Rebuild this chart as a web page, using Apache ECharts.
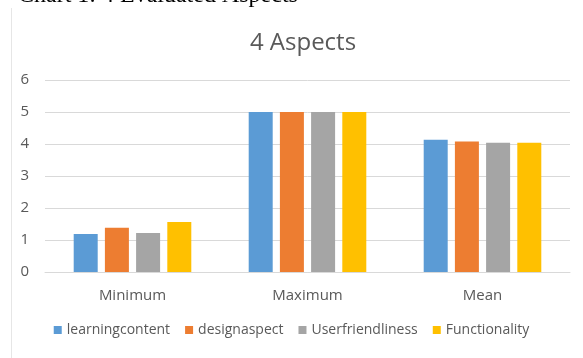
<!DOCTYPE html>
<html><head><meta charset="utf-8">
<script src="https://cdn.jsdelivr.net/npm/echarts@6/dist/echarts.min.js"></script>
<style>html,body{margin:0;padding:0;background:#fff}#c{width:583px;height:358px}</style>
</head><body><div id="c"></div>
<script>
const categories = ['Minimum', 'Maximum', 'Mean'];
const seriesNames = ['learningcontent', 'designaspect', 'Userfriendliness', 'Functionality'];
const learningcontent = [1.19, 5, 4.13];
const designaspect = [1.38, 5, 4.08];
const userfriendliness = [1.22, 5, 4.04];
const functionality = [1.56, 5, 4.04];
const yTicks = [0, 1, 2, 3, 4, 5, 6];
const colors = ['#5B9BD5', '#ED7D31', '#A5A5A5', '#FFC000'];
const values = [learningcontent, designaspect, userfriendliness, functionality];
const font = '"Open Sans", "Noto Sans", sans-serif';

const chart = echarts.init(document.getElementById('c'), null, {renderer: 'canvas'});
chart.setOption({
  animation: false,
  backgroundColor: '#fff',
  title: {
    text: '4 Aspects', left: 298, top: 26, textAlign: 'center',
    textStyle: {fontFamily: font, fontSize: 24, fontWeight: 'normal', color: '#595959'}
  },
  graphic: [
    {type: 'line', shape: {x1: 11.5, y1: 8, x2: 11.5, y2: 358}, style: {stroke: '#E6E6E6', lineWidth: 1}},
    {type: 'text', left: 18, top: -16, style: {text: 'Chart 1: 4 Evaluated Aspects', font: '24px "Liberation Serif", serif', fill: '#000'}}
  ],
  legend: {
    bottom: 16, left: 'center', itemWidth: 8, itemHeight: 8, itemGap: 15, icon: 'rect',
    textStyle: {fontFamily: font, fontSize: 14, color: '#595959'}
  },
  grid: {left: 45, right: 13, top: 80, bottom: 86, outerBoundsMode: 'none', containLabel: false},
  xAxis: {
    type: 'category', data: categories,
    axisLine: {lineStyle: {color: '#D9D9D9'}}, axisTick: {show: false},
    axisLabel: {fontFamily: font, fontSize: 15, color: '#595959', margin: 16}
  },
  yAxis: {
    type: 'value', min: yTicks[0], max: yTicks[yTicks.length - 1], interval: 1,
    axisLine: {show: false}, axisTick: {show: false},
    splitLine: {lineStyle: {color: '#D9D9D9'}},
    axisLabel: {fontFamily: font, fontSize: 15, color: '#595959', margin: 16}
  },
  series: seriesNames.map((n, i) => ({
    name: n, type: 'bar', data: values[i], barWidth: 24, barGap: '30%',
    itemStyle: {color: colors[i]}
  }))
});
</script></body></html>
